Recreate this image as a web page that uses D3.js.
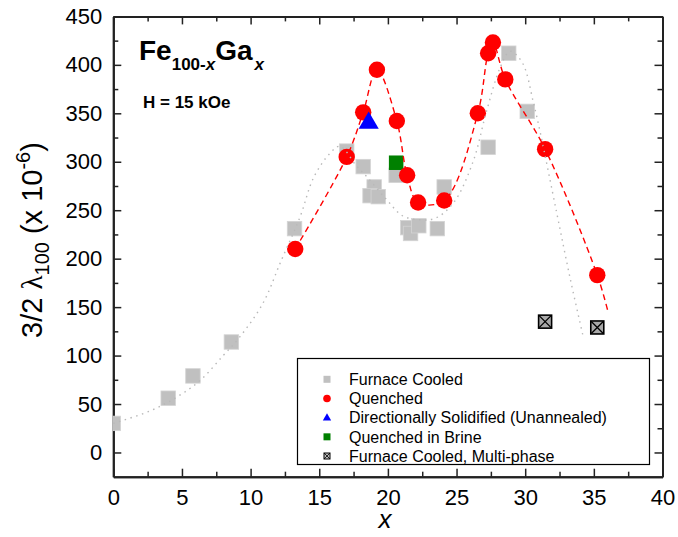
<!DOCTYPE html>
<html>
<head>
<meta charset="utf-8">
<script src="https://cdn.jsdelivr.net/npm/d3@7"></script>
<style>
  body { margin: 0; background: #fff; }
  text { font-family: "Liberation Sans", Arial, sans-serif; fill: #000; }
  .axis path, .axis line { stroke: #222; }
  .axis path { stroke-width: 2; }
  .axis line { stroke-width: 1.5; }
  .axis text { font-size: 22px; }
</style>
</head>
<body>
<div id="chart"></div>
<script>
var svgWidth = 678;
var svgHeight = 537;

var margin = {
    top: 16.4,
    right: 15.5,
    bottom: 60.3,
    left: 113.3
};

var width = svgWidth - margin.left - margin.right;
var height = svgHeight - margin.top - margin.bottom;

// Furnace cooled samples (gray squares)
var furnaceX = [0, 4.0, 5.8, 8.6, 13.2, 17.0, 18.2, 19.0, 18.7, 19.3, 20.6, 21.45, 21.65, 22.25, 23.6, 24.1, 27.3, 28.8, 30.15];
var furnaceY = [30, 56, 79, 114, 231, 311, 295, 274, 265, 264, 286, 232, 226, 234, 231, 274, 315, 412, 352];

// Quenched samples (red circles)
var quenchedX = [13.25, 17.0, 18.2, 19.2, 20.65, 21.4, 22.2, 24.1, 26.55, 27.3, 27.65, 28.55, 31.45, 35.25];
var quenchedY = [210, 305, 351, 395, 342, 286, 258, 260, 350, 412, 423, 385, 313, 183];

// Directionally solidified, quenched in brine, multi-phase
var dsX = [18.6];
var dsY = [341];
var brineX = [20.6];
var brineY = [299];
var multiX = [31.45, 35.25];
var multiY = [135, 129];

// guide lines
var furnaceFitX = [0, 2.7, 4.6, 6.3, 8.0, 9.2, 10.9, 12.2, 13.6, 14.6, 15.8, 16.5, 17.7, 18.5, 19.9, 21.1, 22.5, 23.5, 24.8, 26.2, 27.2, 28.2, 28.9, 29.8, 30.6, 31.1, 32.3, 33.3, 34.2];
var furnaceFitY = [30, 43, 57, 74, 100, 119, 154, 197, 243, 284, 309, 316, 296, 284, 261, 244, 240, 242, 258, 300, 353, 398, 414, 402, 361, 330, 247, 178, 121];
var quenchedFitX = [13.25, 17.0, 18.2, 19.2, 20.65, 21.4, 22.2, 24.1, 26.55, 27.3, 27.65, 28.55, 31.45, 35.25, 36.0];
var quenchedFitY = [210, 305, 351, 395, 342, 286, 258, 260, 350, 412, 423, 385, 313, 183, 147];

var legendLabels = ["Furnace Cooled", "Quenched", "Directionally Solidified (Unannealed)", "Quenched in Brine", "Furnace Cooled, Multi-phase"];

var xTicks = [0, 5, 10, 15, 20, 25, 30, 35, 40];
var xMinor = [2.5, 7.5, 12.5, 17.5, 22.5, 27.5, 32.5, 37.5];
var yTicks = [0, 50, 100, 150, 200, 250, 300, 350, 400, 450];
var yMinor = [25, 75, 125, 175, 225, 275, 325, 375, 425];

var svg = d3.select("#chart")
    .append("svg")
    .attr("width", svgWidth)
    .attr("height", svgHeight);

var chartGroup = svg.append("g")
    .attr("transform", `translate(${margin.left}, ${margin.top})`);

var xLinearScale = d3.scaleLinear()
    .domain([0, 40])
    .range([0, width]);

var yLinearScale = d3.scaleLinear()
    .domain([-25, 450])
    .range([height, 0]);

// Axes on all four sides, ticks pointing inward
chartGroup.append("g")
    .attr("class", "axis")
    .attr("transform", `translate(0, ${height})`)
    .call(d3.axisBottom(xLinearScale).tickValues(xTicks).tickSizeInner(-8).tickSizeOuter(0).tickPadding(13));
chartGroup.append("g")
    .attr("class", "axis")
    .attr("transform", `translate(0, ${height})`)
    .call(d3.axisBottom(xLinearScale).tickValues(xMinor).tickSizeInner(-5).tickSizeOuter(0).tickFormat(""));
chartGroup.append("g")
    .attr("class", "axis")
    .call(d3.axisTop(xLinearScale).tickValues(xTicks).tickSizeInner(-8).tickSizeOuter(0).tickFormat(""));
chartGroup.append("g")
    .attr("class", "axis")
    .call(d3.axisTop(xLinearScale).tickValues(xMinor).tickSizeInner(-5).tickSizeOuter(0).tickFormat(""));

chartGroup.append("g")
    .attr("class", "axis")
    .call(d3.axisLeft(yLinearScale).tickValues(yTicks).tickSizeInner(-8).tickSizeOuter(0).tickPadding(11));
chartGroup.append("g")
    .attr("class", "axis")
    .call(d3.axisLeft(yLinearScale).tickValues(yMinor).tickSizeInner(-5).tickSizeOuter(0).tickFormat(""));
chartGroup.append("g")
    .attr("class", "axis")
    .attr("transform", `translate(${width}, 0)`)
    .call(d3.axisRight(yLinearScale).tickValues(yTicks).tickSizeInner(-8).tickSizeOuter(0).tickFormat(""));
chartGroup.append("g")
    .attr("class", "axis")
    .attr("transform", `translate(${width}, 0)`)
    .call(d3.axisRight(yLinearScale).tickValues(yMinor).tickSizeInner(-5).tickSizeOuter(0).tickFormat(""));

var pts = (xs, ys) => xs.map((d, i) => [d, ys[i]]);

var lineGen = d3.line()
    .x(d => xLinearScale(d[0]))
    .y(d => yLinearScale(d[1]))
    .curve(d3.curveCatmullRom.alpha(0.5));

// gray squares
var sq = 14.5;
chartGroup.append("g")
    .selectAll("rect")
    .data(pts(furnaceX, furnaceY))
    .enter()
    .append("rect")
    .attr("x", d => Math.max(0, xLinearScale(d[0]) - sq / 2))
    .attr("y", d => yLinearScale(d[1]) - sq / 2)
    .attr("width", d => xLinearScale(d[0]) - sq / 2 < 0 ? xLinearScale(d[0]) + sq / 2 : sq)
    .attr("height", sq)
    .attr("fill", "#c0c0c0")
    .attr("stroke", "#d4d4d4")
    .attr("stroke-width", 0.8);

// green square (brine)
chartGroup.append("g")
    .selectAll("rect")
    .data(pts(brineX, brineY))
    .enter()
    .append("rect")
    .attr("x", d => xLinearScale(d[0]) - sq / 2)
    .attr("y", d => yLinearScale(d[1]) - sq / 2)
    .attr("width", sq)
    .attr("height", sq)
    .attr("fill", "#008000");

// red circles
chartGroup.append("g")
    .selectAll("circle")
    .data(pts(quenchedX, quenchedY))
    .enter()
    .append("circle")
    .attr("cx", d => xLinearScale(d[0]))
    .attr("cy", d => yLinearScale(d[1]))
    .attr("r", 8.2)
    .attr("fill", "#ff0000");

// blue triangle
chartGroup.append("g")
    .selectAll("path")
    .data(pts(dsX, dsY))
    .enter()
    .append("path")
    .attr("transform", d => `translate(${xLinearScale(d[0])}, ${yLinearScale(d[1]) + 1})`)
    .attr("d", d3.symbol().type(d3.symbolTriangle).size(175))
    .attr("fill", "#0000ff");

// multi-phase crossed squares
var multi = chartGroup.append("g")
    .selectAll("g")
    .data(pts(multiX, multiY))
    .enter()
    .append("g")
    .attr("transform", d => `translate(${xLinearScale(d[0])}, ${yLinearScale(d[1])})`);
multi.append("rect")
    .attr("x", -6.5).attr("y", -6.5)
    .attr("width", 13).attr("height", 13)
    .attr("fill", "#a9a9a9")
    .attr("stroke", "#000")
    .attr("stroke-width", 1.6);
multi.append("path")
    .attr("d", "M-6,-6L6,6M6,-6L-6,6")
    .attr("stroke", "#000")
    .attr("stroke-width", 1.3);

// guide lines
chartGroup.append("path")
    .datum(pts(furnaceFitX, furnaceFitY))
    .attr("d", lineGen)
    .attr("fill", "none")
    .attr("stroke", "#b8b8b8")
    .attr("stroke-width", 1.4)
    .attr("stroke-dasharray", "1.5,4.5");

chartGroup.append("path")
    .datum(pts(quenchedFitX, quenchedFitY))
    .attr("d", lineGen)
    .attr("fill", "none")
    .attr("stroke", "#ff0000")
    .attr("stroke-width", 1.4)
    .attr("stroke-dasharray", "6,4");

// Title and field
var title = svg.append("text")
    .attr("x", 139)
    .attr("y", 60)
    .attr("font-weight", "bold")
    .attr("font-size", "28px");
title.append("tspan").text("Fe");
title.append("tspan").attr("font-size", "17px").attr("dy", 10).text("100-");
title.append("tspan").attr("font-size", "17px").attr("font-style", "italic").text("x");
title.append("tspan").attr("dy", -10).text("Ga");
title.append("tspan").attr("font-size", "17px").attr("font-style", "italic").attr("dy", 10).attr("dx", 2).text("x");

svg.append("text")
    .attr("x", 143)
    .attr("y", 108)
    .attr("font-weight", "bold")
    .attr("font-size", "17px")
    .text("H = 15 kOe");

// axis labels
var yLabel = svg.append("text")
    .attr("transform", "translate(42, 240) rotate(-90)")
    .attr("text-anchor", "middle")
    .attr("font-size", "29px");
yLabel.append("tspan").text("3/2 ");
yLabel.append("tspan").attr("font-family", "'Liberation Serif', serif").text("λ");
yLabel.append("tspan").attr("font-size", "20px").attr("dy", 7).text("100");
yLabel.append("tspan").attr("dy", -7).text(" (x 10");
yLabel.append("tspan").attr("font-size", "20px").attr("dy", -12).text("-6");
yLabel.append("tspan").attr("dy", 12).text(")");

svg.append("text")
    .attr("x", 385)
    .attr("y", 528)
    .attr("text-anchor", "middle")
    .attr("font-size", "26px")
    .attr("font-style", "italic")
    .text("x");

// Legend
var legend = svg.append("g");
legend.append("rect")
    .attr("x", 297.5).attr("y", 358.5)
    .attr("width", 352).attr("height", 106)
    .attr("fill", "#fff")
    .attr("stroke", "#000")
    .attr("stroke-width", 1.2);

var rowY = d3.scalePoint().domain(legendLabels).range([379.3, 456]);
var symX = 327;

legend.selectAll(".lab")
    .data(legendLabels)
    .enter()
    .append("text")
    .attr("class", "lab")
    .attr("x", 349)
    .attr("y", d => rowY(d))
    .attr("dy", "0.36em")
    .attr("font-size", "16px")
    .text(d => d);

legend.append("rect")
    .attr("x", symX - 3.5).attr("y", rowY(legendLabels[0]) - 3.5)
    .attr("width", 7).attr("height", 7).attr("fill", "#c0c0c0");
legend.append("circle")
    .attr("cx", symX).attr("cy", rowY(legendLabels[1]))
    .attr("r", 3.8).attr("fill", "#ff0000");
legend.append("path")
    .attr("transform", `translate(${symX}, ${rowY(legendLabels[2]) + 0.5})`)
    .attr("d", d3.symbol().type(d3.symbolTriangle).size(30))
    .attr("fill", "#0000ff");
legend.append("rect")
    .attr("x", symX - 3.5).attr("y", rowY(legendLabels[3]) - 3.5)
    .attr("width", 7).attr("height", 7).attr("fill", "#008000");
legend.append("rect")
    .attr("x", symX - 3).attr("y", rowY(legendLabels[4]) - 3)
    .attr("width", 6).attr("height", 6)
    .attr("fill", "#bbb").attr("stroke", "#000").attr("stroke-width", 1);
legend.append("path")
    .attr("d", `M${symX - 3},${rowY(legendLabels[4]) - 3}l6,6m0,-6l-6,6`)
    .attr("stroke", "#000").attr("stroke-width", 0.8);
</script>
</body>
</html>
